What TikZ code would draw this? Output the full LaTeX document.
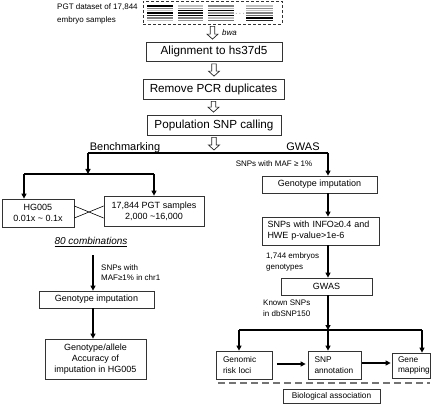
\documentclass[tikz,border=0pt]{standalone}
\usepackage{fontspec}
\setmainfont{Liberation Sans}
\usetikzlibrary{arrows.meta,calc}
\newcommand\hollowdown[2]{%
  \path let \p1=(#1), \p2=(#2) in
    [draw=black!85, line width=0.7pt, fill=white, line join=miter]
    (\x1-2.2pt,\y1) -- (\x1+2.2pt,\y1) -- (\x1+2.2pt,\y2+5pt) -- (\x1+5.5pt,\y2+5pt)
    -- (\x1,\y2) -- (\x1-5.5pt,\y2+5pt) -- (\x1-2.2pt,\y2+5pt) -- cycle;}
\begin{document}
\begin{tikzpicture}[x=1pt,y=-1pt,
  box/.style={draw=black!80, line width=0.75pt, inner sep=1pt, align=center, fill=white},
  big/.style={font=\fontsize{11.7}{13.5}\selectfont},
  mid/.style={font=\fontsize{9}{11}\selectfont},
  sm/.style={font=\fontsize{8.3}{10.5}\selectfont},
  lbl/.style={font=\fontsize{8}{10.5}\selectfont, align=left, inner sep=0pt},
  arr/.style={line width=1.2pt, -{Triangle[length=5pt,width=5pt]}},
  ln/.style={line width=1.2pt},
  readline/.style={line width=1.4pt}]
\useasboundingbox (0,0) rectangle (440,404);

% dataset box with read stacks
\node[draw=black!80, dash pattern=on 3pt off 2pt, line width=0.8pt,
      minimum width=139pt, minimum height=23pt, inner sep=0pt] (ds) at (212.5,12.5) {};
\foreach \c [count=\i] in {black,black!50,black!25,black,black!85,black!50,black!25}
  \draw[readline,\c] (147,3.6+2.4*\i) -- (173,3.6+2.4*\i);
\foreach \c [count=\i] in {black!25,black!35,black,black!85,black,black!50,black!40}
  \draw[readline,\c] (178,3.6+2.4*\i) -- (203,3.6+2.4*\i);
\foreach \c [count=\i] in {black!50,black!25,black,black!40,black,black!25,black!55}
  \draw[readline,\c] (208,3.6+2.4*\i) -- (234,3.6+2.4*\i);
\foreach \c [count=\i] in {black!25,black!45,black!25,black!50,black!60,black,black!85}
  \draw[readline,\c] (246,3.6+2.4*\i) -- (273,3.6+2.4*\i);
\node[inner sep=0pt, font=\fontsize{7}{7}\selectfont] (dots) at (240,13.5) {$\cdots$};

\node[lbl, anchor=west, font=\fontsize{8}{12.5}\selectfont] (pgtt) at (57,14) {PGT dataset of 17,844\\embryo samples};

\node[box,big,minimum width=136pt,minimum height=19pt] (al) at (214,51.5) {Alignment to hs37d5};
\node[box,big,minimum width=141pt,minimum height=20pt] (pcr) at (213.5,89) {Remove PCR duplicates};
\node[box,big,minimum width=134pt,minimum height=20pt] (pop) at (214,125) {Population SNP calling};

\node[lbl, anchor=west, font=\fontsize{8}{10}\selectfont\itshape] (bwa) at (222,32.5) {bwa};

\coordinate (sp) at (213,153);
\coordinate (spL) at (88,153);
\coordinate (spR) at (328,153);

\hollowdown{[yshift=-2pt]ds.south}{[yshift=2.5pt]al.north}
\hollowdown{[yshift=-2.5pt]al.south}{[yshift=2.5pt]pcr.north}
\hollowdown{[yshift=-2pt]pcr.south}{[yshift=2.5pt]pop.north}
\hollowdown{[yshift=-2pt]pop.south}{[yshift=3pt]sp}

\draw[ln] (spL) -- (spR);
\node[anchor=base, inner sep=0pt, font=\fontsize{11}{13}\selectfont] (bm) at (125,150) {Benchmarking};
\node[anchor=base, inner sep=0pt, font=\fontsize{11}{13}\selectfont] (gwl) at (303,150) {GWAS};

% Benchmarking branch
\coordinate (bs) at (88,174);
\coordinate (bsL) at (24,174);
\coordinate (bsR) at (154,174);
\draw[arr] (spL) -- (bs);
\draw[ln] (bsL) -- (bsR);
\node[box,mid,minimum width=72pt,minimum height=28pt] (hg) at (38,213) {HG005\\0.01x \textasciitilde{} 0.1x};
\node[box,mid,minimum width=100pt,minimum height=30pt] (pgts) at (154,211) {17,844 PGT samples\\2,000 \textasciitilde16,000};
\draw[arr] (bsL) -- (bsL |- hg.north);
\draw[arr] (bsR) -- (pgts.north);
\draw[line width=0.6pt] ($(hg.east)+(0,-7)$) -- ($(pgts.west)+(0,7)$);
\draw[line width=0.6pt] ($(hg.east)+(0,5)$) -- ($(pgts.west)+(0,-5)$);

\node[inner sep=0pt, font=\fontsize{10}{12}\selectfont\itshape] (comb) at (91,242) {\underline{80 combinations}};

\coordinate (lt) at (93,255);
\node[box,mid,minimum width=115pt,minimum height=17pt] (gl) at (96.5,299.5) {Genotype imputation};
\draw[arr] (lt) -- (lt |- gl.north);
\node[lbl, anchor=west] (snpl) at (101,272.5) {SNPs with\\MAF≥1\% in chr1};
\node[box,mid,minimum width=101pt,minimum height=40pt] (acc) at (95.5,359) {Genotype/allele\\Accuracy of\\imputation in HG005};
\draw[arr] ([xshift=-3.5pt]gl.south) -- ([xshift=-2.5pt]acc.north);

% GWAS branch
\node[lbl] (maf) at (274,163.5) {SNPs with MAF ≥ 1\%};
\node[box,mid,minimum width=115pt,minimum height=17pt] (gr) at (319.5,184.5) {Genotype imputation};
\draw[arr] (spR) -- (spR |- gr.north);
\node[box,mid,minimum height=28pt,inner xsep=5pt,text width=107pt,align=left] (info) at (321,231) {SNPs with INFO≥0.4 and\\HWE p-value>1e-6};
\draw[arr] (spR |- gr.south) -- (spR |- info.north);
\node[lbl, anchor=west] (emb) at (266,262) {1,744 embryos\\genotypes};
\node[box,mid,minimum width=91pt,minimum height=17pt] (gwas) at (326.5,286.5) {GWAS};
\draw[arr] (spR |- info.south) -- (spR |- gwas.north);
\node[lbl, anchor=west] (known) at (263,308) {Known SNPs\\in dbSNP150};

\coordinate (bsp) at (328,330);
\coordinate (bl) at (239,330);
\coordinate (br) at (422,330);
\draw[arr] (spR |- gwas.south) -- (bsp);
\draw[ln] (bl) -- (br);

\node[box,sm,minimum height=28pt,inner xsep=6.5pt,text width=43pt,align=left] (gen) at (244.5,365) {Genomic\\risk loci};
\node[box,sm,minimum height=28pt,inner xsep=6.5pt,text width=40pt,align=left] (snpa) at (334.5,365) {SNP\\annotation};
\node[box,sm,minimum height=25pt,inner xsep=6pt,text width=26pt,align=left] (gm) at (411,365.5) {Gene\\mapping};
\draw[arr] (bl) -- (bl |- gen.north);
\draw[arr] (bsp) -- (bsp |- snpa.north);
\draw[arr] (br) -- (br |- gm.north);
\draw[arr] ($(gen.east)+(4,-1)$) -- ($(snpa.west)+(-2,-1)$);
\draw[arr] ($(snpa.east)+(1,-2)$) -- ($(gm.west)+(-1,-2.5)$);

\coordinate (dl) at (218,383);
\coordinate (dr) at (430,383);
\draw[black!55, line width=1.6pt, dash pattern=on 7pt off 4pt] (dl) -- (dr);
\node[box,sm,minimum width=97pt,minimum height=14pt,inner sep=0pt] (bio) at (331.5,396) {Biological association};
\end{tikzpicture}
\end{document}
